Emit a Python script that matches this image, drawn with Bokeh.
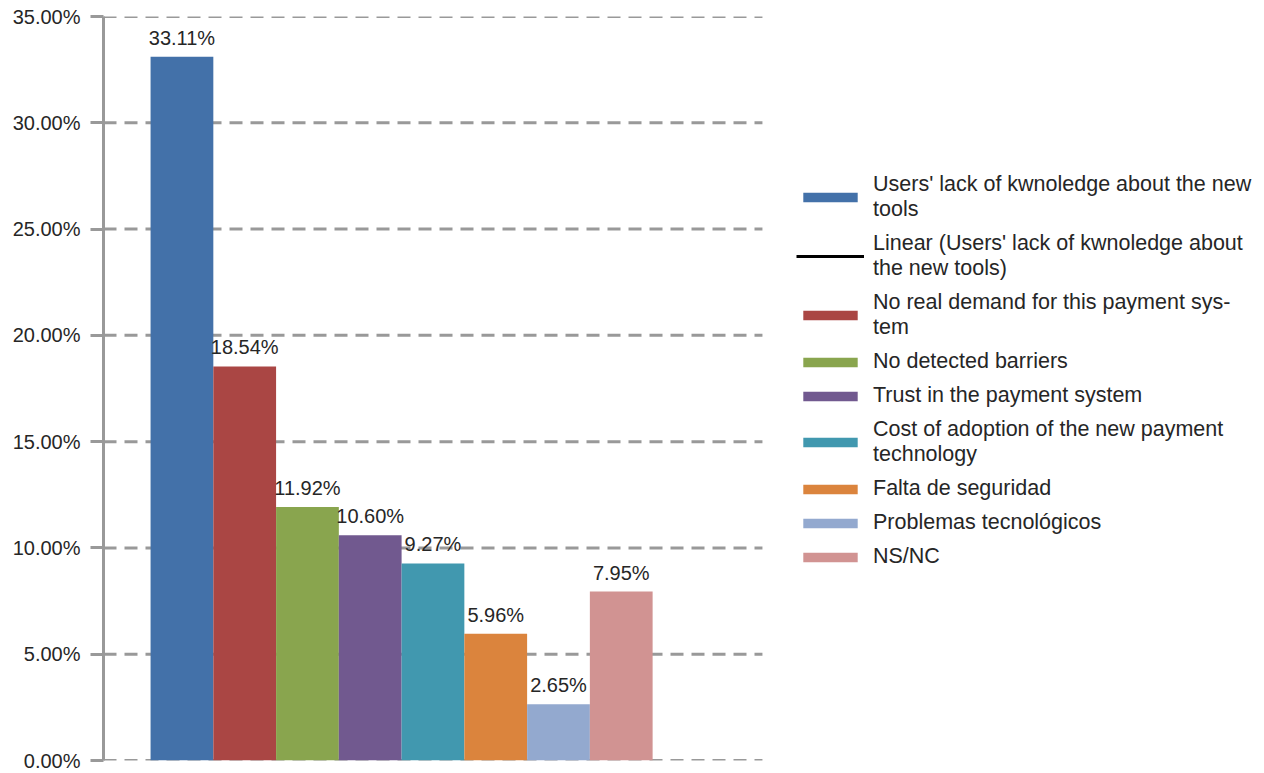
from bokeh.plotting import figure
from bokeh.models import (Range1d, FixedTicker, PrintfTickFormatter, ColumnDataSource,
                          Legend, LegendItem, LabelSet)
from bokeh.core.properties import value
from bokeh.embed import file_html
from bokeh.resources import INLINE

categories = [
    "Users' lack of kwnoledge about the new\ntools",
    "No real demand for this payment sys-\ntem",
    "No detected barriers",
    "Trust in the payment system",
    "Cost of adoption of the new payment\ntechnology",
    "Falta de seguridad",
    "Problemas tecnológicos",
    "NS/NC",
]
values = [33.11, 18.54, 11.92, 10.60, 9.27, 5.96, 2.65, 7.95]
value_labels = ["33.11%", "18.54%", "11.92%", "10.60%", "9.27%", "5.96%", "2.65%", "7.95%"]
colors = ["#4371A9", "#AA4644", "#89A54E", "#71598F", "#4198AF", "#DB843D", "#93A9CF", "#D19392"]
trend_label = "Linear (Users' lack of kwnoledge about\nthe new tools)"
y_ticks = [0, 5, 10, 15, 20, 25, 30, 35]

FONT = "Liberation Sans"
TXT = "#262626"
GRID_END = 10.5   # horizontal extent of the plotting area (in bar units)

p = figure(width=1264, height=773, output_backend="svg", toolbar_location=None,
           x_range=Range1d(0, 18.5), y_range=Range1d(0, 35),
           min_border_left=103, min_border_right=0, min_border_top=16, min_border_bottom=13)
p.outline_line_color = None
p.xaxis.visible = False
p.xgrid.grid_line_color = None
p.ygrid.grid_line_color = None

# dashed horizontal gridlines across the plotting area
p.segment(x0=[0] * len(y_ticks), y0=y_ticks, x1=[GRID_END] * len(y_ticks), y1=y_ticks,
          line_color="#999999", line_width=3, line_dash="13 8", level="underlay")

xs = [1.25 + i for i in range(len(values))]
src = ColumnDataSource(dict(x=xs, top=values, color=colors, lab=value_labels))

renderers = []
for i in range(len(values)):
    r = p.vbar(x=[xs[i]], top=[values[i]], bottom=0, width=1.0,
               fill_color=colors[i], line_color=None)
    renderers.append(r)

# linear trend of the single-point first series (draws nothing visible)
trend = p.line(x=[xs[0]], y=[values[0]], line_color="black", line_width=3)

labels = LabelSet(x="x", y="top", text="lab", source=src, text_align="center",
                  text_baseline="bottom", y_offset=8, text_font=value(FONT),
                  text_font_size="20px", text_color=TXT)
p.add_layout(labels)

yax = p.yaxis[0]
yax.ticker = FixedTicker(ticks=y_ticks)
yax.formatter = PrintfTickFormatter(format="%.2f%%")
yax.axis_line_color = "#999999"
yax.axis_line_width = 3
yax.major_tick_line_color = "#999999"
yax.major_tick_line_width = 3
yax.major_tick_out = 13
yax.major_tick_in = 0
yax.minor_tick_line_color = None
yax.major_label_text_font = FONT
yax.major_label_text_font_size = "20px"
yax.major_label_text_color = TXT
yax.major_label_standoff = 10

items = [LegendItem(label=categories[0], renderers=[renderers[0]]),
         LegendItem(label=trend_label, renderers=[trend])]
for i in range(1, len(values)):
    items.append(LegendItem(label=categories[i], renderers=[renderers[i]]))

legend = Legend(items=items, location=(693, 191), padding=0, margin=0,
                border_line_color=None, background_fill_alpha=0,
                glyph_width=68, glyph_height=12, label_standoff=9, spacing=9,
                label_text_font=FONT, label_text_font_size="21.5px",
                label_text_color=TXT, label_text_line_height=1.12)
p.add_layout(legend, "center")

open("out.html", "w").write(file_html(p, INLINE))
